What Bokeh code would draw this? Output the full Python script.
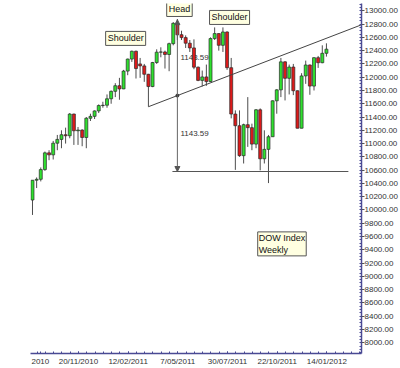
from bokeh.plotting import figure
from bokeh.models import (Range1d, FixedTicker, Label, Arrow, NormalHead,
                          PrintfTickFormatter, CustomJSTickFormatter, ColumnDataSource)
from bokeh.embed import file_html
from bokeh.resources import INLINE
from bokeh.core.properties import value

# ---- data: DOW weekly candles (week index 0 = week ending 3/09/2010) ----
opens = [10150, 10448, 10462, 10608, 10860, 10830, 11006, 11063, 11133, 11118,
         11445, 11193, 11204, 11092, 11382, 11410, 11492, 11573, 11578, 11675,
         11787, 11872, 11824, 12092, 12273, 12391, 12200, 12170, 12044, 11859,
         12221, 12377, 12380, 12342, 12505, 12811, 12640, 12596, 12512, 12441,
         12151, 11952, 12004, 11934, 12582, 12657, 12480, 12681, 12143, 11445,
         11269, 10818, 11285, 11240, 10992, 11509, 10771, 10913, 11103, 11644,
         11809, 12231, 11983, 12153, 11796, 11231, 12019, 12184, 11866, 12294,
         12218, 12360]
highs = [10450, 10490, 10640, 10880, 10900, 11040, 11130, 11200, 11240, 11460,
         11450, 11250, 11215, 11400, 11450, 11500, 11590, 11630, 11740, 11800,
         11910, 11990, 12110, 12280, 12400, 12400, 12290, 12200, 12050, 12230,
         12420, 12450, 12400, 12520, 12830, 12876, 12700, 12630, 12560, 12570,
         12160, 12100, 12190, 12600, 12750, 12660, 12750, 12690, 12290, 11500,
         11500, 11300, 11700, 11300, 11520, 11530, 11200, 11130, 11650, 11820,
         12290, 12240, 12190, 12200, 11800, 12060, 12250, 12190, 12300, 12320,
         12480, 12510]
lows = [9925, 10330, 10430, 10590, 10750, 10760, 10900, 10930, 11000, 11080,
        10980, 10980, 10960, 10930, 11340, 11370, 11460, 11540, 11540, 11600,
        11700, 11660, 11820, 12030, 12230, 11980, 11990, 11930, 11555, 11850,
        12200, 12300, 12130, 12090, 12480, 12560, 12560, 12440, 12380, 12120,
        11940, 11862, 11870, 11930, 12560, 12400, 12380, 12110, 11380, 10604,
        10800, 10700, 10950, 10900, 10930, 10597, 10700, 10405, 11100, 11450,
        11700, 11650, 11740, 11730, 11230, 11230, 11900, 11735, 11800, 12140,
        12210, 12310]
closes = [10448, 10462, 10608, 10860, 10830, 11006, 11063, 11133, 11118, 11445,
          11193, 11204, 11092, 11382, 11410, 11492, 11573, 11578, 11675, 11787,
          11872, 11824, 12092, 12273, 12391, 12130, 12170, 12044, 11859, 12221,
          12377, 12380, 12342, 12505, 12811, 12638, 12596, 12512, 12441, 12151,
          11952, 12004, 11934, 12582, 12657, 12480, 12681, 12143, 11445, 11269,
          10818, 11285, 11240, 10992, 11509, 10771, 10913, 11103, 11644, 11809,
          12231, 11983, 12153, 11796, 11231, 12019, 12184, 11866, 12294, 12218,
          12360, 12422]
weeks = list(range(len(opens)))

x_tick_pos = [1.9, 11.1, 23.1, 35.1, 47.1, 59.1, 71.1]
x_tick_labels = ["2010", "20/11/2010", "12/02/2011", "7/05/2011",
                 "30/07/2011", "22/10/2011", "14/01/2012"]
y_ticks = list(range(8000, 13001, 200))

# head & shoulders construction
neck_x = [28, 79.5]
neck_y = [11555, 12790]
head_x = 35
measure = 1143.59
target_x = [33.8, 76.3]

# ---- derived ----
slope = (neck_y[1] - neck_y[0]) / (neck_x[1] - neck_x[0])
neck_at_head = neck_y[0] + slope * (head_x - neck_x[0])
head_top = neck_at_head + measure
target = neck_at_head - measure

GREEN = "#2fe02f"
RED = "#dd1a1a"
src = ColumnDataSource(dict(
    x=weeks, high=highs, low=lows,
    top=[max(o, c) for o, c in zip(opens, closes)],
    bottom=[min(o, c) for o, c in zip(opens, closes)],
    color=[GREEN if c >= o else RED for o, c in zip(opens, closes)],
))

p = figure(width=400, height=368,
           x_range=Range1d(-0.48, 79.47), y_range=Range1d(7838, 13110),
           output_backend="svg", toolbar_location=None,
           y_axis_location="right",
           min_border_left=30, min_border_top=3, min_border_right=39,
           min_border_bottom=14)
p.outline_line_color = None
p.grid.visible = False
p.background_fill_color = "white"

FONT = "Liberation Sans"
AXC = "#4a4a94"

# measurement texts (behind candles)
p.text(x=[head_x, head_x],
       y=[(head_top + neck_at_head) / 2, (neck_at_head + target) / 2],
       text=[f"{measure:.2f}", f"{measure:.2f}"],
       x_offset=3, text_baseline="middle", text_align="left",
       text_font=value(FONT), text_font_size="8px", text_color="#333333")

# candles
p.segment(x0="x", y0="high", x1="x", y1="low", source=src,
          line_color="#4d4d4d", line_width=1)
p.vbar(x="x", top="top", bottom="bottom", width=0.72, source=src,
       fill_color="color", line_color="#2a2a2a", line_width=0.7)

# neckline
p.line(x=neck_x, y=neck_y, line_color="#444444", line_width=1)
# target line
p.line(x=target_x, y=[target, target], line_color="#555555", line_width=1.2)
# vertical measure
p.add_layout(Arrow(end=NormalHead(size=5, fill_color="#555555", line_color="#555555"),
                   x_start=head_x, y_start=neck_at_head, x_end=head_x, y_end=head_top,
                   line_color="#666666", line_width=1))
p.add_layout(Arrow(end=NormalHead(size=5, fill_color="#555555", line_color="#555555"),
                   x_start=head_x, y_start=neck_at_head, x_end=head_x, y_end=target,
                   line_color="#666666", line_width=1))
p.scatter(x=[head_x], y=[neck_at_head], size=3, color="#333333")

# callout boxes
def callout(x, y, text, align="center", baseline="middle", pad=2):
    shadow = Label(x=x, y=y, text=text, text_font=FONT, text_font_size="9px",
                   text_align=align, text_baseline=baseline, text_alpha=0,
                   x_offset=1.5, y_offset=-1.5, padding=pad,
                   background_fill_color="#3a3a3a", border_line_color="#3a3a3a")
    box = Label(x=x, y=y, text=text, text_font=FONT, text_font_size="9px",
                text_align=align, text_baseline=baseline, text_color="#111111",
                padding=pad, background_fill_color="#ffffe1",
                border_line_color="#555555", border_line_width=1)
    p.add_layout(shadow)
    p.add_layout(box)

callout(22.5, 12584, "Shoulder")
callout(35.5, 13020, "Head")
callout(47.6, 12900, "Shoulder")
callout(54.4, 9670, "DOW Index\nWeekly", align="left", baseline="top", pad=1)

# x axis
xa = p.xaxis[0]
xa.ticker = FixedTicker(ticks=x_tick_pos,
                        minor_ticks=[11.1 + 2 * k for k in range(-5, 35)])
xa.formatter = CustomJSTickFormatter(args=dict(pos=x_tick_pos, labs=x_tick_labels), code="""
    const i = pos.findIndex(v => Math.abs(v - tick) < 1e-6);
    return i >= 0 ? labs[i] : '';
""")
xa.axis_line_color = AXC
xa.axis_line_width = 1.5
xa.major_tick_line_color = AXC
xa.minor_tick_line_color = AXC
xa.major_tick_in = 2
xa.major_tick_out = 0
xa.minor_tick_in = 2
xa.minor_tick_out = 0
xa.major_label_standoff = 3
xa.major_label_text_font = FONT
xa.major_label_text_font_size = "8px"
xa.major_label_text_color = "#333333"

# y axis
ya = p.yaxis[0]
ya.ticker = FixedTicker(ticks=y_ticks,
                        minor_ticks=list(range(7850, 13101, 50)))
ya.formatter = PrintfTickFormatter(format="%.2f")
ya.axis_line_color = AXC
ya.axis_line_width = 1.5
ya.major_tick_line_color = "#555555"
ya.minor_tick_line_color = AXC
ya.major_tick_in = 0
ya.major_tick_out = 3
ya.minor_tick_in = 2
ya.minor_tick_out = 0
ya.major_label_standoff = 0
ya.major_label_text_font = FONT
ya.major_label_text_font_size = "8px"
ya.major_label_text_color = "#333333"

open("out.html", "w").write(file_html(p, INLINE))
